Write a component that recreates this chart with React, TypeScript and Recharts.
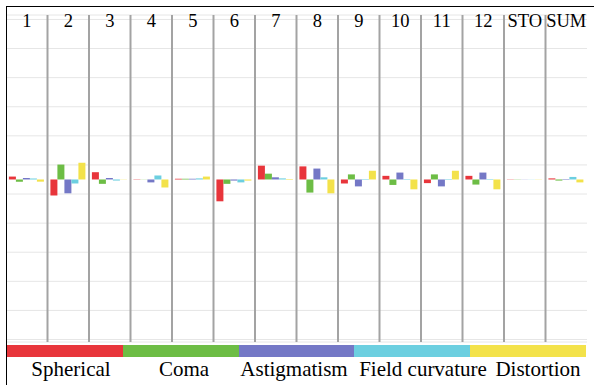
import { BarChart, Bar, XAxis, YAxis, CartesianGrid, ReferenceLine } from 'recharts';

const categories = ['1', '2', '3', '4', '5', '6', '7', '8', '9', '10', '11', '12', 'STO', 'SUM'];

const spherical = [0.004, -0.022, 0.01, 0.0004, 0.001, -0.03, 0.019, 0.018, -0.0055, 0.005, -0.005, 0.005, 0.0004, 0.0015];
const coma = [-0.003, 0.0205, -0.006, 0.0002, 0.001, -0.006, 0.008, -0.018, 0.007, -0.0075, 0.007, -0.007, -0.0003, -0.0015];
const astigmatism = [0.002, -0.019, 0.002, -0.004, 0.001, -0.0015, 0.003, 0.015, -0.0095, 0.0095, -0.0095, 0.0095, 0.0002, 0.0007];
const fieldCurvature = [0.0015, -0.0055, -0.0015, 0.0055, 0.0015, -0.004, 0.0015, 0.003, 0.0007, 0.0007, 0.0007, 0.0007, 0.0002, 0.0035];
const distortion = [-0.003, 0.023, 0.0003, -0.011, 0.004, -0.0015, -0.0007, -0.019, 0.012, -0.0135, 0.012, -0.0135, -0.0003, -0.004];

const seriesNames = ['Spherical', 'Coma', 'Astigmatism', 'Field curvature', 'Distortion'];
const seriesKeys = ['spherical', 'coma', 'astigmatism', 'fieldCurvature', 'distortion'];
const colors = ['#e8353b', '#6dbd45', '#7478c6', '#6ccfe0', '#f3e24a'];

const yTicks = [-0.22, -0.2, -0.18, -0.16, -0.14, -0.12, -0.1, -0.08, -0.06, -0.04, -0.02, 0, 0.02, 0.04, 0.06, 0.08, 0.1, 0.12, 0.14, 0.16, 0.18, 0.2, 0.22];

const data = categories.map((cat, i) => ({
  cat,
  spherical: spherical[i],
  coma: coma[i],
  astigmatism: astigmatism[i],
  fieldCurvature: fieldCurvature[i],
  distortion: distortion[i],
}));

const serif = 'Liberation Serif';
// centre x of each legend name under the strip
const legendCenters = [71, 184, 294, 423, 538];

function TopTick({ x, payload }: any) {
  return (
    <text x={x} y={27} textAnchor="middle" fontFamily={serif} fontSize={18.5} fill="#000">
      {payload.value}
    </text>
  );
}

export default function App() {
  return (
    <div style={{ position: 'absolute', left: 0, top: 0, width: 594, height: 385, background: '#fff', overflow: 'hidden' }}>
      <BarChart
        width={594}
        height={385}
        data={data}
        margin={{ top: 14, right: 7, bottom: 43, left: 6 }}
        barGap={0}
        barCategoryGap="7%"
      >
        <CartesianGrid vertical={false} stroke="#e6e6e6" />
        <XAxis
          dataKey="cat"
          orientation="top"
          height={1}
          axisLine={false}
          tickLine={false}
          interval={0}
          tick={<TopTick />}
        />
        <YAxis hide domain={[-0.2234, 0.2261]} ticks={yTicks} />
        {/* separators sit on the left edge of every band after the first */}
        {categories.slice(1).map((c) => (
          <ReferenceLine key={c} x={c} position="start" stroke="#a3a3a3" strokeWidth={2} />
        ))}
        {seriesKeys.map((k, i) => (
          <Bar key={k} dataKey={k} name={seriesNames[i]} fill={colors[i]} isAnimationActive={false} />
        ))}
      </BarChart>

      {/* legend: colour strip with names underneath */}
      <div style={{ position: 'absolute', left: 7, top: 345, width: 579, height: 12, display: 'flex' }}>
        {colors.map((c) => (
          <div key={c} style={{ flex: 1, background: c }} />
        ))}
      </div>
      {seriesNames.map((n, i) => (
        <div
          key={n}
          style={{
            position: 'absolute',
            left: legendCenters[i] - 80,
            width: 160,
            top: 356,
            textAlign: 'center',
            whiteSpace: 'nowrap',
            fontFamily: serif,
            fontSize: 21,
            lineHeight: '26px',
          }}
        >
          {n}
        </div>
      ))}

      {/* frame */}
      <div
        style={{
          position: 'absolute',
          left: 6,
          top: 6,
          width: 600,
          height: 400,
          borderLeft: '1.5px solid #000',
          borderTop: '1.5px solid #000',
          pointerEvents: 'none',
        }}
      />
    </div>
  );
}
